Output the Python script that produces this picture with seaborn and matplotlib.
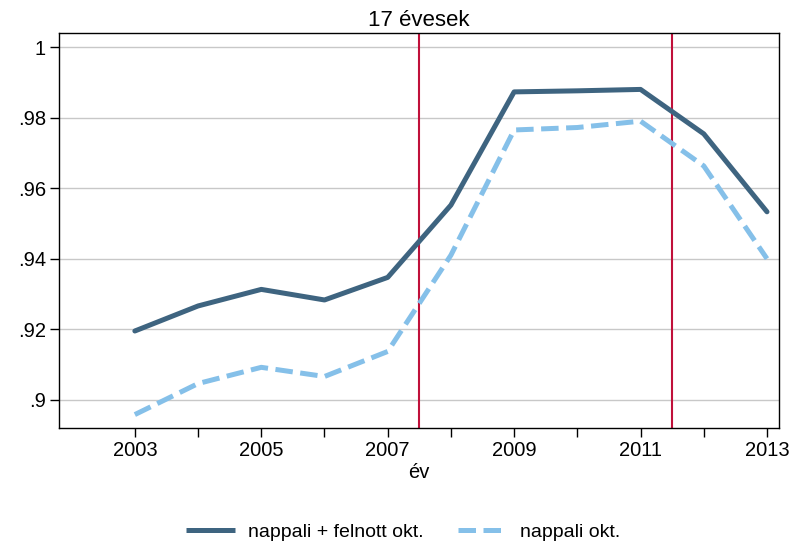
import seaborn as sns
import matplotlib.pyplot as plt
import pandas as pd

sns.set_theme(style="white")
plt.rcParams["font.family"] = ["Liberation Sans", "DejaVu Sans"]
plt.rcParams.update({"text.color": "black", "axes.labelcolor": "black",
                     "xtick.color": "black", "ytick.color": "black"})

years = [2003, 2004, 2005, 2006, 2007, 2008, 2009, 2010, 2011, 2012, 2013]
nappali_felnott = [0.9195, 0.9266, 0.9313, 0.9283, 0.9347, 0.9552, 0.9873, 0.9876, 0.9880, 0.9754, 0.9533]
nappali = [0.8958, 0.9046, 0.9092, 0.9066, 0.9137, 0.9410, 0.9765, 0.9772, 0.9790, 0.9663, 0.9400]
series_names = ["nappali + felnott okt.", "nappali okt."]
reform_lines = [2007.5, 2011.5]

df = pd.DataFrame({"év": years, series_names[0]: nappali_felnott, series_names[1]: nappali})
long = pd.melt(df, ["év"], var_name="type", value_name="arány")

fig = plt.figure(figsize=(8.07, 5.48), dpi=100)
ax = fig.add_axes([0.0731, 0.219, 0.8922, 0.7208])

ax.grid(axis="y", color="#c8c8c8", linewidth=1)
ax.set_axisbelow(True)

for x in reform_lines:
    ax.axvline(x, color="#c0103a", linewidth=1.5, zorder=1)

sns.lineplot(
    data=long,
    x="év",
    y="arány",
    hue="type",
    style="type",
    palette=["#3e6480", "#85c0e9"],
    dashes=[(None, None), (3.5, 1.5)],
    linewidth=3.6,
    ax=ax,
    zorder=3,
)

ax.set_xlim(2001.8, 2013.19)
ax.set_ylim(0.892, 1.004)
ax.set_xticks([2003, 2005, 2007, 2009, 2011, 2013])
ax.set_xticks([2004, 2006, 2008, 2010, 2012], minor=True)
ax.set_yticks([0.9, 0.92, 0.94, 0.96, 0.98, 1.0])
ax.set_yticklabels([".9", ".92", ".94", ".96", ".98", "1"])
ax.tick_params(axis="both", which="both", direction="out", length=6.5, width=1,
               color="black", labelsize=14.5, bottom=True, left=True, pad=3)
for s in ax.spines.values():
    s.set_color("black")
    s.set_linewidth(1)

ax.set_xlabel("év", fontsize=14.5, labelpad=2)
ax.set_ylabel("")
ax.set_title("17 évesek", fontsize=16, pad=5)

handles, labels = ax.get_legend_handles_labels()
for h in handles:
    h.set_solid_capstyle("butt")
    h.set_dash_capstyle("butt")
ax.legend(handles, labels, loc="center", bbox_to_anchor=(0.478, -0.263), ncol=2,
          frameon=False, fontsize=14, handlelength=2.5, handletextpad=0.65,
          columnspacing=1.8)

fig.savefig("out.png", dpi=100)
